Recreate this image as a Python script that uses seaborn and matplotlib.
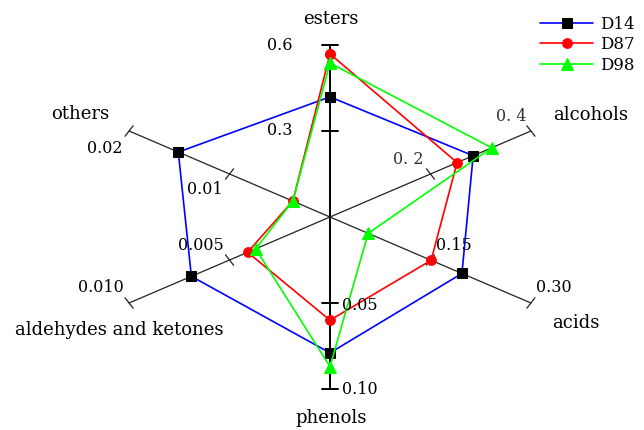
import numpy as np
import pandas as pd
import matplotlib
matplotlib.use("Agg")
import matplotlib.pyplot as plt
import seaborn as sns

# Radar chart data, one scale per axis
categories = ['esters', 'alcohols', 'acids', 'phenols', 'aldehydes and ketones', 'others']
axis_max = [0.6, 0.4, 0.30, 0.10, 0.010, 0.02]
axis_half_labels = ['0.3', '0. 2', '0.15', '0.05', '0.005', '0.01']
axis_max_labels = ['0.6', '0. 4', '0.30', '0.10', '0.010', '0.02']

samples = ['D14', 'D87', 'D98']
d14 = [0.419, 0.285, 0.197, 0.079, 0.0069, 0.0151]
d87 = [0.569, 0.253, 0.151, 0.060, 0.0041, 0.0037]
d98 = [0.537, 0.322, 0.057, 0.087, 0.0037, 0.0037]

colors = ['#0000FF', '#FF0000', '#00FF00']
marker_faces = ['black', '#FF0000', '#00FF00']
markers = ['s', 'o', '^']
marker_sizes = [6.5, 7, 8]

angles = np.deg2rad([90, 30, -30, -90, 210, 150])

sns.set_style('white')
plt.rcParams['font.family'] = ['DejaVu Serif']
plt.rcParams['text.color'] = 'black'

fig = plt.figure(figsize=(6.44, 4.30), dpi=100)
ax = fig.add_axes([0, 0, 1, 1])

# center at (330, 217) px, 232 px per unit horizontally, 172 px vertically
ax.set_xlim(-330 / 232, (644 - 330) / 232)
ax.set_ylim(-(430 - 217) / 172, 217 / 172)
ax.set_axis_off()

# axes lines and ticks
tick_h = 0.035
for i, a in enumerate(angles):
    vertical = i in (0, 3)
    lw = 1.4 if vertical else 0.9
    col = 'black' if vertical else '#222222'
    ax.plot([0, np.cos(a)], [0, np.sin(a)], color=col, lw=lw, zorder=1)
    px, py = -np.sin(a), np.cos(a)
    for r in (0.5, 1.0):
        cx, cy = r * np.cos(a), r * np.sin(a)
        ax.plot([cx - tick_h * px, cx + tick_h * px], [cy - tick_h * py, cy + tick_h * py],
                color=col, lw=lw, zorder=1)

# data series
for name, vals, c, fc, m, ms in zip(samples, [d14, d87, d98], colors, marker_faces, markers, marker_sizes):
    frac = np.array(vals) / np.array(axis_max)
    df = pd.DataFrame({'x': frac * np.cos(angles), 'y': frac * np.sin(angles)})
    df = pd.concat([df, df.iloc[[0]]], ignore_index=True)
    sns.lineplot(data=df, x='x', y='y', sort=False, estimator=None, ax=ax, color=c, lw=1.2,
                 marker=m, markersize=ms, markerfacecolor=fc, markeredgecolor=fc, label=name, zorder=3)

# labels, positions in figure pixels
cat_pos = [(331, 19), (591, 115), (576, 323), (331, 418), (119, 330), (80, 114)]
half_pos = [(280, 131), (408, 160), (454, 245), (360, 305), (201, 245), (205, 190)]
max_pos = [(280, 45), (511, 116), (554, 288), (360, 390), (101, 288), (105, 148)]

def fig_xy(p):
    return p[0] / 644, 1 - p[1] / 430

for i in range(6):
    fig.text(*fig_xy(cat_pos[i]), categories[i], ha='center', va='center', fontsize=13)
    tcol = '#333333' if i == 1 else 'black'
    fig.text(*fig_xy(half_pos[i]), axis_half_labels[i], ha='center', va='center', fontsize=11.5, color=tcol)
    fig.text(*fig_xy(max_pos[i]), axis_max_labels[i], ha='center', va='center', fontsize=11.5, color=tcol)

leg = ax.legend(loc='upper left', bbox_to_anchor=(540 / 644, 1 - 16 / 430), bbox_transform=fig.transFigure,
                frameon=False, fontsize=12, handlelength=3.2, borderpad=0, borderaxespad=0,
                labelspacing=0.2, handletextpad=0.4)
for t in leg.get_texts():
    t.set_color('black')

fig.savefig('out.png', dpi=100)
